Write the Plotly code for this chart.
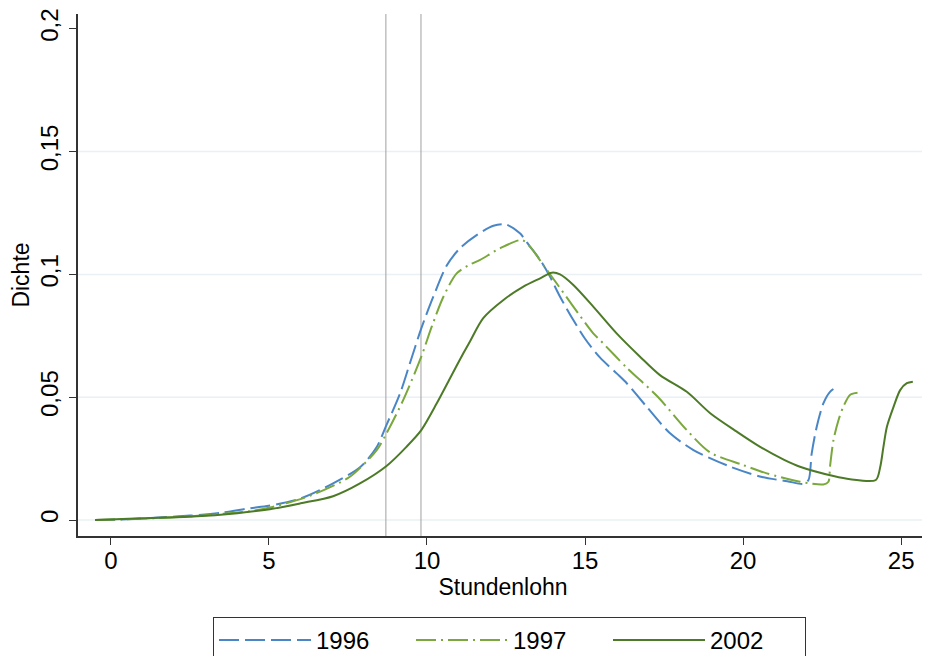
import plotly.graph_objects as go

# Kerndichteschaetzung Stundenlohn
x_1996 = [-0.5, 0.5, 1.5, 2.5, 3.5, 4.4, 5.0, 6.0, 7.0, 7.9, 8.4, 8.72, 9.15, 9.46, 9.82,
          10.2, 10.62, 11.04, 11.57, 12.1, 12.5, 12.94, 13.26, 13.58, 13.89, 14.21, 14.63,
          15.0, 15.47, 16.0, 16.32, 16.95, 17.69, 18.43, 19.5, 20.6, 21.4, 21.9, 22.07,
          22.17, 22.33, 22.54, 22.75, 22.97]
y_1996 = [0, 0.0003, 0.001, 0.0018, 0.003, 0.0048, 0.0058, 0.0088, 0.0147, 0.0217, 0.0295,
          0.0387, 0.0516, 0.0638, 0.078, 0.0909, 0.1035, 0.1106, 0.116, 0.1198, 0.1203,
          0.1167, 0.1113, 0.1059, 0.0991, 0.0909, 0.0814, 0.0738, 0.0662, 0.0597, 0.0557,
          0.0461, 0.0353, 0.0285, 0.0222, 0.0175, 0.0158, 0.0147, 0.0163, 0.027, 0.038,
          0.0475, 0.0522, 0.0543]

x_1997 = [-0.5, 0.5, 1.5, 2.5, 3.5, 4.4, 5.0, 6.0, 6.5, 7.56, 8.41, 8.72, 9.25, 9.82, 10.15,
          10.52, 10.94, 11.36, 11.68, 12.31, 13.0, 13.26, 13.68, 14.1, 14.63, 15.26, 15.47,
          16.32, 17.3, 18.22, 18.96, 20.0, 20.75, 21.8, 22.54, 22.7, 22.75, 22.86, 23.02,
          23.17, 23.39, 23.62]
y_1997 = [0, 0.0003, 0.0008, 0.0015, 0.0025, 0.0036, 0.005, 0.0085, 0.0109, 0.0176, 0.0285,
          0.0353, 0.0489, 0.0665, 0.0787, 0.0909, 0.1004, 0.104, 0.1059, 0.1106, 0.114,
          0.1113, 0.1038, 0.0964, 0.0869, 0.076, 0.0733, 0.062, 0.0502, 0.0366, 0.0275,
          0.0224, 0.019, 0.0156, 0.0145, 0.0156, 0.0217, 0.0326, 0.0407, 0.0461, 0.051,
          0.0518]

x_2002 = [-0.5, 1.0, 2.6, 4.0, 5.03, 6.0, 7.03, 7.88, 8.72, 9.35, 9.82, 10.31, 10.73, 11.15,
          11.36, 11.78, 12.42, 13.05, 13.58, 13.95, 14.21, 14.63, 15.26, 16.0, 16.74, 17.37,
          18.22, 18.96, 19.8, 20.54, 21.3, 21.8, 22.86, 23.39, 24.2, 24.34, 24.44, 24.55,
          24.76, 24.97, 25.18, 25.37]
y_2002 = [0, 0.0007, 0.0014, 0.0028, 0.0044, 0.0068, 0.0097, 0.0149, 0.022, 0.0298, 0.0366,
          0.0475, 0.0577, 0.0679, 0.0727, 0.0822, 0.0896, 0.095, 0.0984, 0.1007, 0.1,
          0.0957, 0.0869, 0.076, 0.0665, 0.059, 0.0522, 0.0435, 0.036, 0.0298, 0.0245,
          0.0217, 0.0179, 0.0166, 0.0163, 0.0217, 0.0298, 0.038, 0.0461, 0.0529, 0.0557,
          0.0563]

vlines = [8.7, 9.81]
grid_y = [0, 0.05, 0.1, 0.15]
x_ticks = [0, 5, 10, 15, 20, 25]
y_ticks = [0, 0.05, 0.1, 0.15, 0.2]

font = "Liberation Sans, Arial, sans-serif"

# page body has an 8px margin, so the figure is 8px smaller than the window
W, H = 922, 648

fig = go.Figure()
fig.add_trace(go.Scatter(x=x_1996, y=y_1996, mode="lines", name="1996",
                         line=dict(color="#4a86c6", width=2, dash="20px,6px",
                                   shape="spline", smoothing=0.8)))
fig.add_trace(go.Scatter(x=x_1997, y=y_1997, mode="lines", name="1997",
                         line=dict(color="#7aa83c", width=2, dash="20px,5px,2px,5px",
                                   shape="spline", smoothing=0.8)))
fig.add_trace(go.Scatter(x=x_2002, y=y_2002, mode="lines", name="2002",
                         line=dict(color="#4d7a27", width=2, shape="spline", smoothing=0.8)))

for g in grid_y:
    fig.add_shape(type="line", xref="paper", x0=0, x1=1, yref="y", y0=g, y1=g,
                  line=dict(color="#eaf0f3", width=1.5), layer="below")
for v in vlines:
    fig.add_shape(type="line", xref="x", x0=v, x1=v, yref="paper", y0=0, y1=1,
                  line=dict(color="#a0a0a0", width=1), layer="below")

fig.update_layout(
    width=W, height=H,
    margin=dict(l=70, r=2, t=6, b=120),
    paper_bgcolor="white", plot_bgcolor="white",
    separators=",.",
    font=dict(family=font, size=24, color="black"),
    xaxis=dict(range=[-1.04, 25.85], tickvals=x_ticks, showgrid=False, zeroline=False,
               showline=True, linecolor="#333333", linewidth=1.5, automargin=False,
               ticks="outside", ticklen=7, tickcolor="#333333", ticklabelstandoff=-5,
               title=dict(text="Stundenlohn", font=dict(size=23), standoff=2)),
    yaxis=dict(range=[-0.0065, 0.206], tickvals=y_ticks, showgrid=False, zeroline=False,
               showline=True, linecolor="#333333", linewidth=1.5, automargin=False,
               ticks="outside", ticklen=7, tickcolor="#333333", tickangle=-90,
               ticklabelstandoff=2,
               title=dict(text="Dichte", font=dict(size=23), standoff=2)),
    showlegend=True,
    legend=dict(orientation="h", xref="container", x=(213 - 8) / W, xanchor="left",
                yref="container", y=1 - (617 - 8) / H, yanchor="top",
                bordercolor="#333333", borderwidth=1, itemwidth=92,
                entrywidth=90, entrywidthmode="pixels",
                font=dict(size=24)),
)

fig.write_html("out.html")
